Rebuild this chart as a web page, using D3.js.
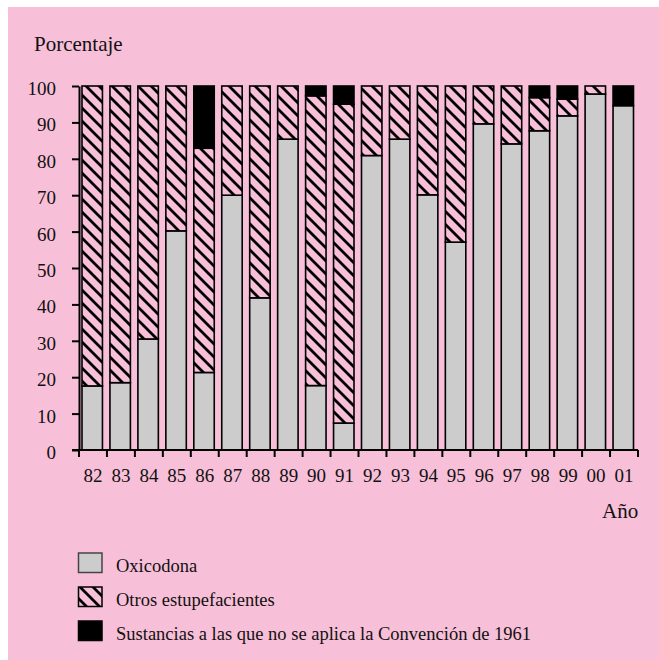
<!DOCTYPE html>
<html><head><meta charset="utf-8">
<script src="https://cdn.jsdelivr.net/npm/d3@7"></script>
<style>
html,body{margin:0;padding:0;background:#fff;}
svg{display:block;font-family:"Liberation Serif","Times New Roman",serif;}
</style></head>
<body>
<svg id="c" width="659" height="660"></svg>
<script>
const years = ["82","83","84","85","86","87","88","89","90","91","92","93","94","95","96","97","98","99","00","01"];
const oxicodona = [17.6,18.5,30.5,60.2,21.3,70,41.8,85.4,17.7,7.4,80.9,85.4,70.1,57.1,89.6,84.1,87.7,91.8,97.8,94.6];
const otros = [82.4,81.5,69.5,39.8,61.6,30,58.2,14.6,79.6,87.6,19.1,14.6,29.9,42.9,10.4,15.9,9.1,4.6,2.2,0];
const sustancias = [0,0,0,0,17.1,0,0,0,2.7,5,0,0,0,0,0,0,3.2,3.6,0,5.4];
const yTicks = [0,10,20,30,40,50,60,70,80,90,100];
const seriesNames = ["Oxicodona","Otros estupefacientes","Sustancias a las que no se aplica la Convención de 1961"];
const keys = ["oxi","otros","sust"];

const table = years.map((y,i)=>({year:y, oxi:oxicodona[i], otros:otros[i], sust:sustancias[i]}));

const svg = d3.select("#c");
const PINK = "#F8BFD8";
svg.append("rect").attr("x",8).attr("y",7).attr("width",651).attr("height",653).attr("fill",PINK);

const defs = svg.append("defs");
const pat = defs.append("pattern").attr("id","hatch").attr("patternUnits","userSpaceOnUse")
  .attr("width",13).attr("height",13);
pat.append("rect").attr("width",13).attr("height",13).attr("fill",PINK);
pat.append("path").attr("d","M0,0L13,13M-4,9L4,17M9,-4L17,4")
  .attr("stroke","#000").attr("stroke-width",2.8);

const fills = {oxi:"#CCCCCC", otros:"url(#hatch)", sust:"#000"};

const x = d3.scaleBand().domain(years).range([79,638]);
const y = d3.scaleLinear().domain([0,100]).range([450,86]);

const stack = d3.stack().keys(keys)(table);

const g = svg.append("g");
stack.forEach(layer=>{
  g.selectAll(null).data(layer.filter(d=>d[1]-d[0]>0)).enter().append("rect")
    .attr("x",d=>x(d.data.year)+3)
    .attr("width",x.bandwidth()-7.5)
    .attr("y",d=>y(d[1]))
    .attr("height",d=>y(d[0])-y(d[1]))
    .attr("fill",fills[layer.key])
    .attr("stroke","#000").attr("stroke-width",1.6);
});

// Y axis
const yAxis = svg.append("g").attr("transform","translate(79,0)")
  .call(d3.axisLeft(y).tickValues(yTicks).tickSize(7).tickSizeOuter(0).tickPadding(16));
yAxis.select(".domain").attr("stroke","#000").attr("stroke-width",2);
yAxis.selectAll(".tick line").attr("stroke","#000").attr("stroke-width",2);
yAxis.selectAll(".tick text").attr("font-size",19).attr("fill","#111").attr("font-family","Liberation Serif").attr("dy","0.45em");

// X axis
const xAxis = svg.append("g").attr("transform","translate(0,450)")
  .call(d3.axisBottom(x).tickSize(0).tickPadding(19));
xAxis.select(".domain").remove();
xAxis.selectAll(".tick text").attr("font-size",19).attr("fill","#111").attr("font-family","Liberation Serif");
const bounds = years.map(d=>x(d)).concat([x.range()[1]]);
xAxis.append("line").attr("x1",72).attr("x2",x.range()[1]).attr("y1",0).attr("y2",0)
  .attr("stroke","#000").attr("stroke-width",2);
xAxis.selectAll(".bt").data(bounds).enter().append("line")
  .attr("x1",d=>d).attr("x2",d=>d).attr("y1",0).attr("y2",7)
  .attr("stroke","#000").attr("stroke-width",2);

// titles
svg.append("text").attr("x",34).attr("y",51).attr("font-size",21).attr("fill","#111").text("Porcentaje");
svg.append("text").attr("x",602).attr("y",518).attr("font-size",21).attr("fill","#111").text("Año");

// legend
const leg = svg.append("g");
keys.forEach((k,i)=>{
  const top = 553 + i*34;
  leg.append("rect").attr("x",78.5).attr("y",top).attr("width",23.5).attr("height",19.5)
    .attr("fill",fills[k]).attr("stroke",k==="oxi"?"#444":"#000").attr("stroke-width",1.5);
  leg.append("text").attr("x",116).attr("y",top+19).attr("font-size",18.5).attr("fill","#111").text(seriesNames[i]);
});
</script>
</body></html>
